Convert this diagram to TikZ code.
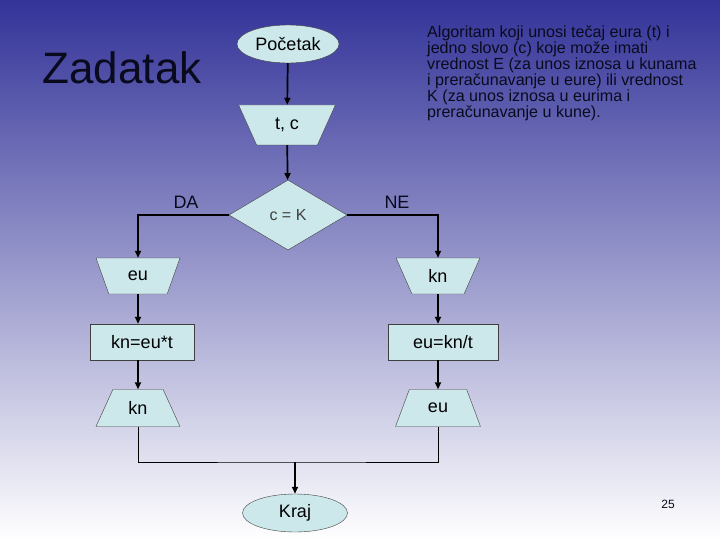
\documentclass[tikz,border=0pt]{standalone}
\usepackage{fontspec}
\setmainfont{Liberation Sans}
\usepackage{tikz}
\usetikzlibrary{arrows.meta,positioning,shapes.geometric}
\definecolor{bgtop}{HTML}{333399}
\definecolor{boxfill}{HTML}{CCE8EA}
\definecolor{boxline}{HTML}{404040}
\definecolor{inktext}{HTML}{0A0A1E}

\begin{document}
\begin{tikzpicture}[
    x=1pt, y=-1pt,
    >={Triangle[length=7pt,width=6pt]},
    term/.style={ellipse, draw=boxline, fill=boxfill, minimum width=#1, minimum height=38pt, inner sep=0pt, font=\fontsize{18}{20}\selectfont},
    inbox/.style={trapezium, trapezium stretches=true, shape border rotate=180, trapezium left angle=#1, trapezium right angle=#1, draw=boxline, fill=boxfill, inner sep=0pt, font=\fontsize{18}{20}\selectfont},
    outbox/.style={trapezium, trapezium stretches=true, trapezium left angle=#1, trapezium right angle=#1, draw=boxline, fill=boxfill, inner sep=0pt, font=\fontsize{18}{20}\selectfont},
    calc/.style={rectangle, draw=boxline, fill=boxfill, minimum width=#1, minimum height=36pt, inner sep=0pt, font=\fontsize{18}{20}\selectfont},
    cond/.style={diamond, draw=boxline, fill=boxfill, minimum width=118pt, minimum height=70pt, inner sep=0pt, font=\fontsize{16}{18}\selectfont, text=black!75},
    flow/.style={->, line width=1.7pt, black},
    mergeline/.style={line width=0.8pt, black},
    lbl/.style={font=\fontsize{18}{20}\selectfont, text=inktext},
]
% Background
\useasboundingbox (0,0) rectangle (720,540);
\shade[top color=bgtop, bottom color=white] (0,0) rectangle (720,540);

% Title and note
\node[font=\fontsize{44}{48}\selectfont, text=inktext] (title) at (122,68) {Zadatak};
\node[font=\fontsize{16.1}{15.9}\selectfont, text=inktext, align=left, anchor=north west, inner sep=0pt] (note) at (427,26)
    {Algoritam koji unosi tečaj eura (t) i\\
     jedno slovo (c) koje može imati\\
     vrednost E (za unos iznosa u kunama\\
     i preračunavanje u eure) ili vrednost\\
     K (za unos iznosa u eurima i\\
     preračunavanje u kune).};

% Flowchart
\node[term=102pt] (start) at (288,44) {Početak};
\node[inbox=63, minimum width=97pt, minimum height=40pt] (input) at (287,125) {t, c};
\node[cond] (test) at (288,215) {c = K};
\node[inbox=66, minimum width=84pt, minimum height=36pt] (readeu) at (138,276) {eu};
\node[inbox=66, minimum width=84pt, minimum height=36pt] (readkn) at (438,276) {kn};
\node[calc=104pt] (toeu) at (142,342) {kn=eu*t};
\node[calc=110pt] (tokn) at (443,342) {eu=kn/t};
\node[outbox=64, minimum width=84pt, minimum height=37pt] (showkn) at (138,408) {kn};
\node[outbox=64, minimum width=85pt, minimum height=37pt] (showeu) at (438,408) {eu};
\node[term=105pt] (stop) at (295,513) {Kraj};
\coordinate (merge) at (295,462);

% Branch labels
\node[lbl] (yes) at (186,202) {DA};
\node[lbl] (no) at (397,202) {NE};

% Connectors
\draw[flow] (start) -- (input);
\draw[flow] (input) -- (test);
\draw[flow] (test.west) -| (readeu.north);
\draw[flow] (test.east) -| (readkn.north);
\draw[flow] (readeu) -- (readeu |- toeu.north);
\draw[flow] (readkn) -- (readkn |- tokn.north);
\draw[flow] (readeu |- toeu.south) -- (showkn);
\draw[flow] (readkn |- tokn.south) -- (showeu);
\draw[mergeline] (showkn.south) |- (merge) -| (showeu.south);
\draw[flow] (merge) -- (stop);

% Page number
\node[font=\fontsize{12}{14}\selectfont, text=inktext] (page) at (668,504) {25};

\end{tikzpicture}
\end{document}
